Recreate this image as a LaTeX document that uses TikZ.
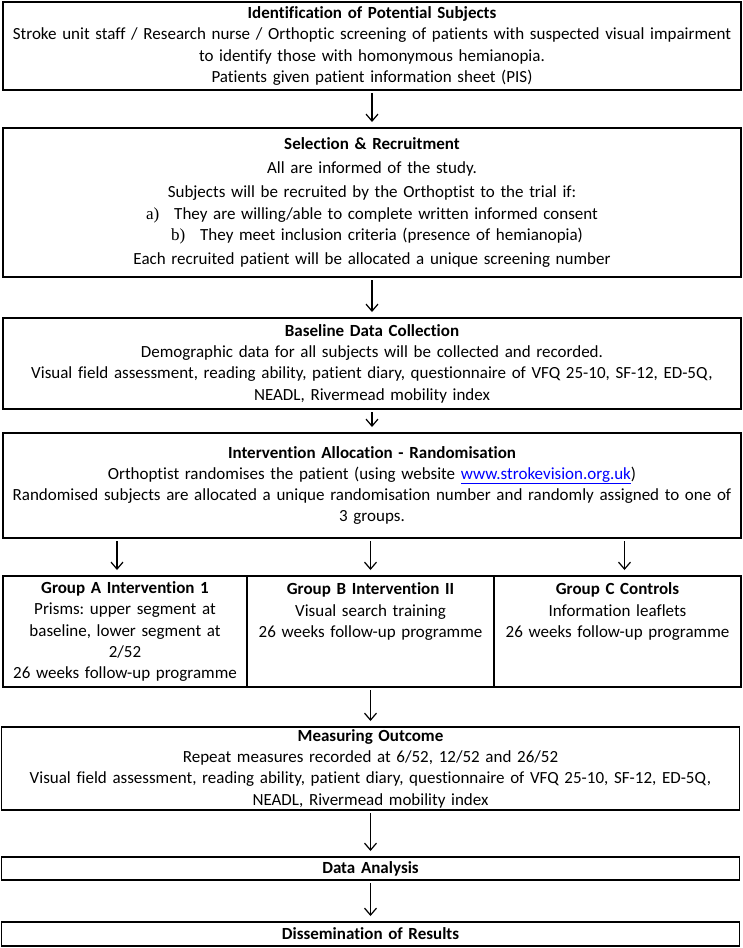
\documentclass[tikz,border=0pt]{standalone}
\usepackage{fontspec}
\setmainfont{Carlito}[Ligatures=NoCommon]
\newfontfamily\itemfont{Liberation Serif}
\frenchspacing
\usetikzlibrary{shapes.geometric, arrows.meta, positioning}
\tikzstyle{stage} = [draw, rectangle, line width=1.3pt, text width=730pt, inner xsep=4pt, inner ysep=1pt, outer sep=0pt, align=center, font=\fontsize{17}{21.3}\selectfont]
\tikzstyle{group} = [stage, minimum height=111pt, anchor=north west]
\tikzstyle{flow} = [-{Straight Barb[length=7pt,width=12pt]}, line width=1.2pt, shorten <=3pt, shorten >=6pt]

\begin{document}
\begin{tikzpicture}[x=1pt, y=1pt]
\useasboundingbox (0,0) rectangle (742,-948);

        % Stages
        \node (ident) [stage, minimum height=88pt, anchor=north] at (372,-2) {\textbf{Identification of Potential Subjects}\\ Stroke unit staff / Research nurse / Orthoptic screening of patients with suspected visual impairment\\ to identify those with homonymous hemianopia.\\ Patients given patient information sheet (PIS)};
        \node (select) [stage, minimum height=149pt, below=38pt of ident] {\textbf{Selection \& Recruitment}\\[3pt] All are informed of the study.\\[3pt] Subjects will be recruited by the Orthoptist to the trial if:\\ {\itemfont a)}\hspace{15pt}They are willing/able to complete written informed consent\\ \hspace*{10pt}{\itemfont b)}\hspace{15pt}They meet inclusion criteria (presence of hemianopia)\\[3pt] Each recruited patient will be allocated a unique screening number};
        \node (baseline) [stage, minimum height=91pt, below=41pt of select] {\textbf{Baseline Data Collection}\\ Demographic data for all subjects will be collected and recorded.\\ Visual field assessment, reading ability, patient diary, questionnaire of VFQ 25-10, SF-12, ED-5Q,\\ NEADL, Rivermead mobility index};
        \node (alloc) [stage, minimum height=105pt, below=24pt of baseline] {\textbf{Intervention Allocation - Randomisation}\\ Orthoptist randomises the patient (using website \textcolor{blue}{\underline{www.strokevision.org.uk}})\\ Randomised subjects are allocated a unique randomisation number and randomly assigned to one of\\ 3 groups.};

        % Groups
        \node (grpA) [group, text width=236pt] at (3,-576) {\textbf{Group A Intervention 1}\\ Prisms: upper segment at\\ baseline, lower segment at\\ 2/52\\ 26 weeks follow-up programme};
        \node (grpB) [group, text width=239pt, right=0pt of grpA, anchor=west] {\textbf{Group B Intervention II}\\ Visual search training\\ 26 weeks follow-up programme\\ ~\\ ~};
        \node (grpC) [group, text width=239pt, right=0pt of grpB, anchor=west] {\textbf{Group C Controls}\\ Information leaflets\\ 26 weeks follow-up programme\\ ~\\ ~};

        \node (outcome) [stage, minimum height=83pt, below=40pt of grpB] {\textbf{Measuring Outcome}\\ Repeat measures recorded at 6/52, 12/52 and 26/52\\ Visual field assessment, reading ability, patient diary, questionnaire of VFQ 25-10, SF-12, ED-5Q,\\ NEADL, Rivermead mobility index};
        \node (analysis) [stage, minimum height=23pt, below=47pt of outcome] {\textbf{Data Analysis}};
        \node (dissem) [stage, minimum height=24pt, below=42pt of analysis] {\textbf{Dissemination of Results}};

        % Arrow ends for the groups
        \coordinate (inA) at ([xshift=-8pt]grpA.north);
        \coordinate (inB) at (grpB.north);
        \coordinate (inC) at ([xshift=7pt]grpC.north);

        % Connections
        \draw [flow] (ident) -- (select);
        \draw [flow] (select) -- (baseline);
        \draw [flow] (baseline) -- (alloc);
        \draw [flow] (inA |- alloc.south) -- (inA);
        \draw [flow] (inB |- alloc.south) -- (inB);
        \draw [flow] (inC |- alloc.south) -- (inC);
        \draw [flow] (grpB) -- (outcome);
        \draw [flow] (outcome) -- (analysis);
        \draw [flow] (analysis) -- (dissem);

\end{tikzpicture}
\end{document}
